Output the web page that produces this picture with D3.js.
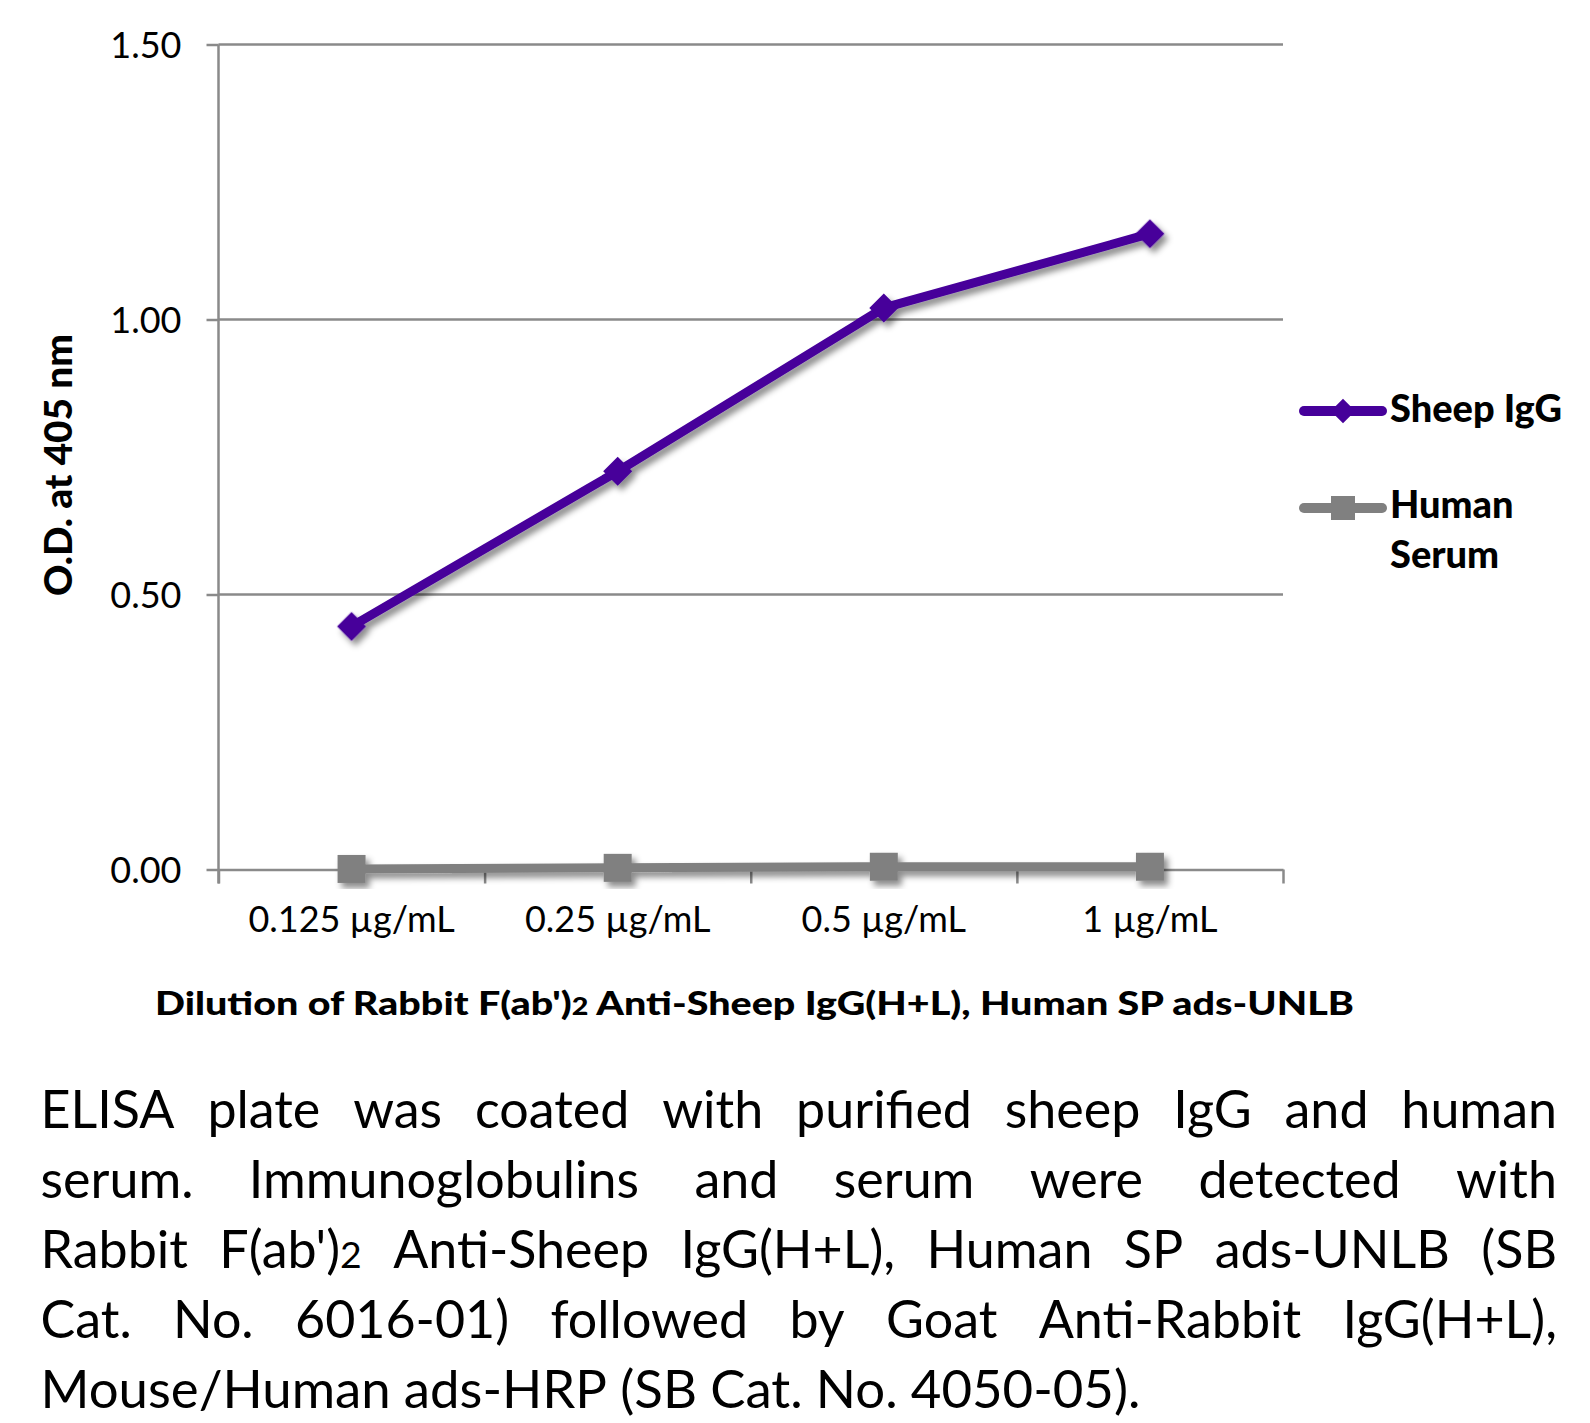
<!DOCTYPE html>
<html>
<head>
<meta charset="utf-8">
<script src="https://cdn.jsdelivr.net/npm/d3@7"></script>
<style>
  html, body { margin: 0; padding: 0; background: #fff; }
  svg { display: block; }
  text { font-family: Lato, "Open Sans", sans-serif; fill: #000; }
</style>
</head>
<body>
<svg id="chart" width="1590" height="1423"></svg>
<script>
// ---- data ----
const categories = ["0.125 µg/mL", "0.25 µg/mL", "0.5 µg/mL", "1 µg/mL"];
const sheepIgG = [0.442, 0.724, 1.021, 1.156];
const humanSerum = [0.001, 0.003, 0.005, 0.005];
const yTicks = [0, 0.5, 1.0, 1.5];
const seriesNames = ["Sheep IgG", "Human Serum"];
const yTitle = "O.D. at 405 nm";
const xTitleParts = ["Dilution of Rabbit F(ab')", "2", " Anti-Sheep IgG(H+L), Human SP ads-UNLB"];
const captionLines = [
  "ELISA plate was coated with purified sheep IgG and human",
  "serum. Immunoglobulins and serum were detected with",
  "Rabbit F(ab')2 Anti-Sheep IgG(H+L), Human SP ads-UNLB (SB",
  "Cat. No. 6016-01) followed by Goat Anti-Rabbit IgG(H+L),",
  "Mouse/Human ads-HRP (SB Cat. No. 4050-05)."
];

(function () {
// ---- layout ----
const svg = d3.select("#chart");
const pLeft = 218.5, pRight = 1283, pTop = 44.5, pBottom = 869.5;
const purple = "#46009a", grey = "#808080", gridCol = "#8a8a8a";

const x = d3.scaleBand().domain(categories).range([pLeft, pRight]).padding(0);
const xEdge = d3.scaleLinear().domain([0, categories.length]).range([pLeft, pRight]);
const y = d3.scaleLinear().domain([0, 1.5]).range([pBottom, pTop]);

// shadow filter
const defs = svg.append("defs");
const f = defs.append("filter").attr("id", "shadow").attr("x", "-20%").attr("y", "-20%").attr("width", "140%").attr("height", "140%");
f.append("feDropShadow").attr("dx", 4).attr("dy", 5).attr("stdDeviation", 3)
  .attr("flood-color", "#000").attr("flood-opacity", 0.45);

// gridlines
svg.append("g").selectAll("line").data(yTicks.filter(d => d > 0)).join("line")
  .attr("x1", pLeft).attr("x2", pRight)
  .attr("y1", d => y(d)).attr("y2", d => y(d))
  .attr("stroke", gridCol).attr("stroke-width", 2.5);

// y axis
const yAxis = svg.append("g").attr("transform", `translate(${pLeft},0)`)
  .call(d3.axisLeft(y).tickValues(yTicks).tickFormat(d3.format(".2f")).tickSize(12).tickPadding(25));
yAxis.select(".domain").remove();
yAxis.selectAll(".tick line").attr("stroke", gridCol).attr("stroke-width", 2.5);
yAxis.selectAll(".tick text").attr("font-size", 36).attr("fill", "#000")
  .attr("font-family", "Lato, sans-serif").attr("dy", "0.36em");
svg.append("line").attr("x1", pLeft).attr("x2", pLeft).attr("y1", pTop).attr("y2", pBottom + 14)
  .attr("stroke", gridCol).attr("stroke-width", 2.5);

// x axis (ticks at category edges)
const xAxis = svg.append("g").attr("transform", `translate(0,${pBottom})`)
  .call(d3.axisBottom(xEdge).tickValues(d3.range(categories.length + 1)).tickFormat("").tickSize(14).tickSizeOuter(0));
xAxis.select(".domain").attr("stroke", gridCol).attr("stroke-width", 2.5);
xAxis.selectAll(".tick line").attr("stroke", gridCol).attr("stroke-width", 2.5);

// x labels
svg.append("g").selectAll("text").data(categories).join("text")
  .attr("x", d => x(d) + x.bandwidth() / 2).attr("y", 932)
  .attr("text-anchor", "middle").attr("font-size", 36).text(d => d);

// series
const line = d3.line().x((d, i) => x(categories[i]) + x.bandwidth() / 2).y(d => y(d));
function drawSeries(values, color, shape) {
  const g = svg.append("g").attr("filter", "url(#shadow)");
  g.append("path").datum(values).attr("d", line).attr("fill", "none")
    .attr("stroke", color).attr("stroke-width", 9).attr("stroke-linejoin", "round").attr("stroke-linecap", "round");
  const sym = d3.symbol().type(d3.symbolSquare).size(shape === "diamond" ? 420 : 784);
  g.selectAll("path.m").data(values).join("path").attr("class", "m")
    .attr("d", sym)
    .attr("transform", (d, i) => `translate(${x(categories[i]) + x.bandwidth() / 2},${y(d)})` + (shape === "diamond" ? " rotate(45)" : ""))
    .attr("fill", color);
}
drawSeries(humanSerum, grey, "square");
drawSeries(sheepIgG, purple, "diamond");

// legend
const legend = svg.append("g");
const legItems = [
  { name: seriesNames[0], color: purple, shape: "diamond", ly: 411, lines: ["Sheep IgG"], base: 422 },
  { name: seriesNames[1], color: grey, shape: "square", ly: 508, lines: ["Human", "Serum"], base: 518 }
];
legItems.forEach(it => {
  legend.append("line").attr("x1", 1304).attr("x2", 1382).attr("y1", it.ly).attr("y2", it.ly)
    .attr("stroke", it.color).attr("stroke-width", 10).attr("stroke-linecap", "round");
  if (it.shape === "diamond") {
    legend.append("path").attr("d", d3.symbol().type(d3.symbolSquare).size(300))
      .attr("transform", `translate(1343,${it.ly}) rotate(45)`).attr("fill", it.color);
  } else {
    legend.append("path").attr("d", d3.symbol().type(d3.symbolSquare).size(576))
      .attr("transform", `translate(1343,${it.ly})`).attr("fill", it.color);
  }
  it.lines.forEach((t, k) => {
    legend.append("text").attr("x", 1390).attr("y", it.base + k * 50)
      .attr("font-size", 38).attr("font-weight", 900).text(t);
  });
});

// y title
svg.append("text").attr("transform", "translate(72,465) rotate(-90)")
  .attr("text-anchor", "middle").attr("font-size", 37).attr("font-weight", 900)
  .attr("textLength", 262).attr("lengthAdjust", "spacingAndGlyphs").text(yTitle);

// x title
const xt = svg.append("text").attr("x", 155).attr("y", 1015)
  .attr("font-size", 33).attr("font-weight", 900)
  .attr("textLength", 1199).attr("lengthAdjust", "spacingAndGlyphs");
xt.append("tspan").text(xTitleParts[0]);
xt.append("tspan").attr("font-size", 24).text(xTitleParts[1]);
xt.append("tspan").text(xTitleParts[2]);

// caption, justified
const capLeft = 40.5, capRight = 1557, capBase0 = 1128, capLH = 70, capSize = 52;
const capG = svg.append("g");
function addWord(w, xx, yy) {
  const t = capG.append("text").attr("x", xx).attr("y", yy).attr("font-size", capSize);
  const idx = w.indexOf("F(ab')2");
  if (idx >= 0) {
    t.append("tspan").text(w.slice(0, idx + 6));
    t.append("tspan").attr("font-size", capSize * 0.72).text("2");
    const rest = w.slice(idx + 7);
    if (rest) t.append("tspan").text(rest);
  } else {
    t.text(w);
  }
  return t;
}
captionLines.forEach((ln, li) => {
  const yy = capBase0 + li * capLH;
  const words = ln.split(/\s+/);
  const nodes = words.map(w => addWord(w, 0, yy));
  const widths = nodes.map(n => n.node().getComputedTextLength());
  const sum = d3.sum(widths);
  const last = li === captionLines.length - 1;
  if (last) {
    const target = 1100;
    const spaceW = capSize * 0.25;
    const natural = sum + spaceW * (words.length - 1);
    const k = target / natural;
    let cx = capLeft;
    nodes.forEach((n, i) => {
      n.attr("x", cx).attr("textLength", widths[i] * k).attr("lengthAdjust", "spacingAndGlyphs");
      cx += widths[i] * k + spaceW * k;
    });
  } else {
    const avail = capRight - capLeft;
    const minSpace = capSize * 0.2;
    let k = 1;
    if (sum + minSpace * (words.length - 1) > avail) k = (avail - minSpace * (words.length - 1)) / sum;
    const gap = (avail - sum * k) / (words.length - 1);
    let cx = capLeft;
    nodes.forEach((n, i) => {
      n.attr("x", cx);
      if (k < 1) n.attr("textLength", widths[i] * k).attr("lengthAdjust", "spacingAndGlyphs");
      cx += widths[i] * k + gap;
    });
  }
});
})();
</script>
</body>
</html>
